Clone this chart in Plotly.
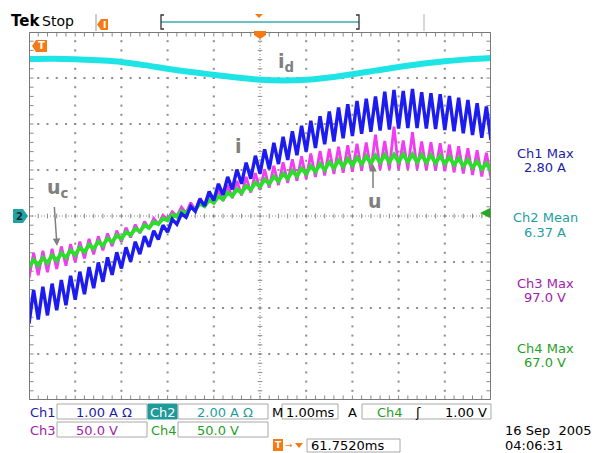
import plotly.graph_objects as go

# ---------------- data (read from the screen) ----------------
# time of each ripple extreme, ms (0 = screen centre, 1.00 ms/div)
t_ms = [-5.0, -4.9, -4.8, -4.7, -4.6, -4.5, -4.4, -4.3, -4.2, -4.1,
        -4.0, -3.9, -3.8, -3.7, -3.6, -3.5, -3.4, -3.3, -3.2, -3.1,
        -3.0, -2.9, -2.8, -2.7, -2.6, -2.5, -2.4, -2.3, -2.2, -2.1,
        -2.0, -1.9, -1.8, -1.7, -1.6, -1.5, -1.4, -1.3, -1.2, -1.1,
        -1.0, -0.9, -0.8, -0.7, -0.6, -0.5, -0.4, -0.3, -0.2, -0.1,
        0.0, 0.1, 0.2, 0.3, 0.4, 0.5, 0.6, 0.7, 0.8, 0.9,
        1.0, 1.1, 1.2, 1.3, 1.4, 1.5, 1.6, 1.7, 1.8, 1.9,
        2.0, 2.1, 2.2, 2.3, 2.4, 2.5, 2.6, 2.7, 2.8, 2.9,
        3.0, 3.1, 3.2, 3.3, 3.4, 3.5, 3.6, 3.7, 3.8, 3.9,
        4.0, 4.1, 4.2, 4.3, 4.4, 4.5, 4.6, 4.7, 4.8, 4.9,
        5.0]

# Ch1: inductor current i (A)
i_A = [-2.34, -1.61, -2.25, -1.54, -2.16, -1.47, -2.05, -1.39, -1.94, -1.30,
       -1.82, -1.21, -1.70, -1.11, -1.57, -1.01, -1.43, -0.90, -1.28, -0.79,
       -1.14, -0.68, -0.99, -0.56, -0.83, -0.44, -0.67, -0.32, -0.51, -0.20,
       -0.35, -0.07, -0.18, 0.05, -0.03, 0.21, 0.10, 0.37, 0.22, 0.53,
       0.34, 0.70, 0.46, 0.85, 0.58, 1.01, 0.70, 1.16, 0.81, 1.31,
       0.92, 1.45, 1.02, 1.59, 1.13, 1.72, 1.22, 1.84, 1.32, 1.96,
       1.40, 2.07, 1.48, 2.17, 1.56, 2.27, 1.62, 2.36, 1.69, 2.43,
       1.74, 2.50, 1.79, 2.55, 1.83, 2.60, 1.86, 2.70, 1.88, 2.74,
       1.90, 2.72, 1.91, 2.76, 1.91, 2.69, 1.90, 2.67, 1.89, 2.65,
       1.87, 2.61, 1.84, 2.57, 1.80, 2.52, 1.76, 2.45, 1.70, 2.38,
       1.65]

# Ch3: capacitor voltage uc (V)
uc_V = [-67.3, -40.0, -64.4, -37.9, -61.2, -35.6, -57.7, -33.1, -53.9, -30.5,
        -50.0, -27.9, -46.0, -24.9, -41.8, -22.0, -37.4, -18.9, -32.8, -15.9,
        -28.2, -12.6, -23.4, -9.3, -18.7, -6.0, -13.8, -2.7, -8.8, 0.8,
        -3.8, 4.6, -0.2, 9.6, 3.2, 14.5, 6.6, 19.4, 9.9, 24.2,
        13.1, 29.0, 16.4, 33.6, 19.5, 38.1, 22.5, 42.5, 25.5, 46.6,
        28.3, 50.8, 30.9, 54.5, 33.6, 58.3, 36.0, 61.7, 38.2, 64.9,
        40.4, 67.8, 42.3, 70.6, 44.1, 73.1, 45.6, 75.2, 47.0, 77.0,
        48.2, 78.6, 49.2, 80.0, 49.9, 88.5, 50.5, 81.6, 50.8, 97.0,
        51.0, 82.0, 50.9, 91.0, 50.7, 81.1, 50.1, 80.2, 49.5, 79.1,
        48.5, 77.6, 47.4, 75.9, 46.1, 73.7, 44.6, 71.5, 42.9, 68.8,
        41.0]

# Ch4: output voltage u (V)
u_V = [-56.2, -47.7, -53.8, -45.4, -51.2, -42.9, -48.4, -40.2, -45.4, -37.3,
       -42.3, -34.3, -39.1, -31.2, -35.6, -27.9, -32.1, -24.5, -28.4, -21.0,
       -24.7, -17.5, -20.8, -13.8, -16.9, -10.1, -12.8, -6.3, -8.8, -2.5,
       -4.7, 1.4, -0.7, 5.4, 3.1, 9.4, 6.9, 13.6, 10.7, 17.6,
       14.4, 21.4, 18.0, 25.3, 21.6, 29.0, 25.1, 32.7, 28.5, 36.3,
       31.7, 39.7, 34.9, 42.9, 37.8, 46.1, 40.7, 48.9, 43.3, 51.6,
       45.8, 54.2, 48.1, 56.6, 50.2, 58.6, 52.1, 60.5, 53.8, 62.2,
       55.1, 63.6, 56.4, 64.8, 57.5, 65.7, 58.1, 66.4, 58.7, 66.8,
       58.9, 67.0, 59.0, 66.9, 58.7, 66.6, 58.3, 66.0, 57.6, 65.1,
       56.8, 64.0, 55.6, 62.7, 54.3, 61.1, 52.6, 59.3, 50.9, 57.3,
       48.8]

# Ch2: dc-link current id (A)
td_ms = [-5.0, -4.5, -4.0, -3.5, -3.0, -2.5, -2.0, -1.5, -1.0, -0.5, 0.0,
         0.5, 1.0, 1.5, 2.0, 2.5, 3.0, 3.5, 4.0, 4.5, 5.0]
id_A = [6.83, 6.84, 6.82, 6.77, 6.70, 6.56, 6.40, 6.26, 6.14, 6.02, 5.92,
        5.89, 5.92, 6.02, 6.16, 6.32, 6.48, 6.62, 6.73, 6.81, 6.87]

# channel scales (units per division)
CH1_PER_DIV = 1.0
CH2_PER_DIV = 2.0
CH3_PER_DIV = 50.0
CH4_PER_DIV = 50.0

measure_labels = ["Ch1 Max", "Ch2 Mean", "Ch3 Max", "Ch4 Max"]
measure_values = ["2.80 A", "6.37 A", "97.0 V", "67.0 V"]

# ---------------- styling / layout ----------------
W, H = 597, 453
L, R, T, B = 29, 491, 32, 400
FONT = "DejaVu Sans"
C1, C2, C3, C4 = "#1c1ca8", "#1f9e9e", "#a01cac", "#1f9f1f"
ORANGE = "#f57a14"
GRID = "#8c8c8c"
LBL = "#7f7f7f"


def px(x):
    return (x - L) / (R - L)


def py(y):
    return (B - y) / (B - T)


def path(pts):
    return "M " + " L ".join(f"{px(x):.5f},{py(y):.5f}" for x, y in pts) + " Z"


fig = go.Figure()

# graticule dots
gx, gy = [], []
minor_x = [round(-5 + 0.2 * j, 2) for j in range(51)]
minor_y = [round(-4 + 0.2 * j, 2) for j in range(41)]
for xv in range(-4, 5):
    if xv == 0:
        continue
    for yv in minor_y:
        gx.append(xv)
        gy.append(yv)
for yv in range(-3, 4):
    if yv == 0:
        continue
    for xv in minor_x:
        gx.append(xv)
        gy.append(yv)
fig.add_trace(go.Scatter(x=gx, y=gy, mode="markers", hoverinfo="skip",
                         marker=dict(size=2, color=GRID, symbol="square", line=dict(width=0))))

# centre-line and border tick marks
tx, ty = [], []
for xv in minor_x:
    tx += [xv, xv, None, xv, xv, None, xv, xv, None]
    ty += [-0.05, 0.05, None, 4.0, 3.9, None, -4.0, -3.9, None]
for yv in minor_y:
    tx += [-0.05, 0.05, None, -5.0, -4.9, None, 5.0, 4.9, None]
    ty += [yv, yv, None, yv, yv, None, yv, yv, None]
fig.add_trace(go.Scatter(x=tx, y=ty, mode="lines", hoverinfo="skip",
                         line=dict(color=GRID, width=1)))

# waveforms
fig.add_trace(go.Scatter(x=td_ms, y=[v / CH2_PER_DIV for v in id_A], mode="lines",
                         line=dict(color="#1ee4e6", width=6, shape="spline"), hoverinfo="skip"))
fig.add_trace(go.Scatter(x=t_ms, y=[v / CH3_PER_DIV for v in uc_V], mode="lines",
                         line=dict(color="#f23cf2", width=2.8), hoverinfo="skip"))
fig.add_trace(go.Scatter(x=t_ms, y=[v / CH4_PER_DIV for v in u_V], mode="lines",
                         line=dict(color="#2ade2a", width=3.8), hoverinfo="skip"))
fig.add_trace(go.Scatter(x=t_ms, y=[v / CH1_PER_DIV for v in i_A], mode="lines",
                         line=dict(color="#1c1cf0", width=3.4), hoverinfo="skip"))

shapes = []
# centre dotted lines
shapes.append(dict(type="line", xref="x", yref="y", x0=-5, x1=5, y0=0, y1=0,
                   line=dict(color=GRID, width=1, dash="1px,2px"), layer="below"))
shapes.append(dict(type="line", xref="x", yref="y", x0=0, x1=0, y0=-4, y1=4,
                   line=dict(color=GRID, width=1, dash="1px,2px"), layer="below"))
# border
shapes.append(dict(type="rect", xref="x", yref="y", x0=-5, x1=5, y0=-4, y1=4,
                   line=dict(color="#7a7a7a", width=2), layer="above"))

# top bar items
shapes.append(dict(type="line", xref="paper", yref="paper", x0=px(96), x1=px(96), y0=py(14), y1=py(31),
                   line=dict(color="#9a9a9a", width=1)))
shapes.append(dict(type="line", xref="paper", yref="paper", x0=px(424), x1=px(424), y0=py(14), y1=py(31),
                   line=dict(color="#b0b0b0", width=1)))
shapes.append(dict(type="path", xref="paper", yref="paper",
                   path=path([(97, 24.5), (101, 19), (108, 19), (108, 30), (101, 30)]),
                   fillcolor=ORANGE, line=dict(width=0)))
shapes.append(dict(type="line", xref="paper", yref="paper", x0=px(161), x1=px(359), y0=py(22), y1=py(22),
                   line=dict(color="#3aaeb0", width=1.5)))
for bx, d in [(161, 1), (359, -1)]:
    shapes.append(dict(type="path", xref="paper", yref="paper",
                       path=f"M {px(bx + 3 * d):.5f},{py(15):.5f} L {px(bx):.5f},{py(15):.5f} "
                            f"L {px(bx):.5f},{py(29):.5f} L {px(bx + 3 * d):.5f},{py(29):.5f}",
                       line=dict(color="#333333", width=1.3)))
shapes.append(dict(type="path", xref="paper", yref="paper",
                   path=path([(255, 14), (263, 14), (259, 18)]), fillcolor=ORANGE, line=dict(width=0)))
# trigger position marker on top border
shapes.append(dict(type="path", xref="paper", yref="paper",
                   path=path([(254, 31), (266, 31), (266, 35), (260, 39), (254, 35)]),
                   fillcolor=ORANGE, line=dict(width=0)))
# T marker
shapes.append(dict(type="path", xref="paper", yref="paper",
                   path=path([(32, 46), (36, 40), (47, 40), (47, 52), (36, 52)]),
                   fillcolor=ORANGE, line=dict(width=0)))
# Ch2 ground marker
shapes.append(dict(type="path", xref="paper", yref="paper",
                   path=path([(13, 209), (23, 209), (28, 216), (23, 223), (13, 223)]),
                   fillcolor="#22a2a2", line=dict(width=0)))

# bottom read-out boxes
def box(x0, x1, y0, y1, fill="white", line="#a8a8a8"):
    return dict(type="rect", xref="paper", yref="paper", x0=px(x0), x1=px(x1), y0=py(y1), y1=py(y0),
                fillcolor=fill, line=dict(color=line, width=1))


shapes += [box(57, 147, 404, 419), box(57, 147, 422, 437),
           box(178, 268, 404, 419), box(178, 268, 422, 437),
           box(148, 177, 404, 419, fill="#1f9a9a", line="#1f9a9a"),
           box(282, 338, 404, 419), box(362, 491, 404, 419),
           box(307, 400, 439, 452)]
shapes.append(dict(type="path", xref="paper", yref="paper",
                   path=path([(273, 439), (283, 439), (283, 451), (273, 451)]),
                   fillcolor=ORANGE, line=dict(width=0)))
shapes.append(dict(type="path", xref="paper", yref="paper",
                   path=path([(295, 443), (303, 443), (299, 448)]),
                   fillcolor=ORANGE, line=dict(width=0)))


def txt(x, y, s, color="#000000", size=13, xanchor="center"):
    return dict(x=px(x), y=py(y), xref="paper", yref="paper", text=s, showarrow=False,
                xanchor=xanchor, yanchor="middle", font=dict(family=FONT, size=size, color=color))


ann = []
ann.append(txt(9, 21, "<b>Tek</b>", size=15, xanchor="left"))
ann.append(txt(40, 21, "Stop", size=14, xanchor="left"))
ann.append(txt(104, 24.5, "<b>I</b>", color="white", size=9))
ann.append(txt(41.5, 46, "<b>T</b>", color="white", size=10))
ann.append(txt(19, 216, "<b>2</b>", color="#0c2a2a", size=10))
ann.append(txt(278, 445, "<b>T</b>", color="white", size=9))
ann.append(txt(289, 445, "→", color=ORANGE, size=9))

# measurements on the right
ys = [(153, 167), (217, 232), (283, 297), (348, 362)]
cols = [C1, C2, C3, C4]
for (ya, yb), lab, val, c in zip(ys, measure_labels, measure_values, cols):
    ann.append(txt(545, ya, lab, color=c, size=13))
    ann.append(txt(545, yb, val, color=c, size=13))

# bottom read-outs
ann += [txt(28, 412, "Ch1", C1, 13, "left"), txt(104, 412, "1.00 A Ω", C1, 13),
        txt(162.5, 412, "Ch2", "white", 13), txt(225, 412, "2.00 A Ω", C2, 13),
        txt(270, 412, "M", "#000000", 13, "left"), txt(310, 412, "1.00ms", "#000000", 13),
        txt(346, 412, "A", "#000000", 13, "left"), txt(375, 412, "Ch4", C4, 13, "left"),
        txt(418, 412, "ʃ", "#000000", 13), txt(489, 412, "1.00 V", "#000000", 13, "right"),
        txt(28, 430, "Ch3", C3, 13, "left"), txt(97, 430, "50.0 V", C3, 13),
        txt(149, 430, "Ch4", C4, 13, "left"), txt(218, 430, "50.0 V", C4, 13),
        txt(309, 445, "61.7520ms", "#000000", 13, "left"),
        txt(503, 430, "16 Sep  2005", "#000000", 13, "left"),
        txt(503, 445, "04:06:31", "#000000", 13, "left")]

# waveform labels
ann += [txt(286, 62, "<b>i<sub>d</sub></b>", LBL, 19),
        txt(238, 146, "<b>i</b>", LBL, 19),
        txt(57, 189, "<b>u<sub>c</sub></b>", LBL, 19),
        txt(375, 201, "<b>u</b>", LBL, 19)]


def arrow(hx, hy, tx_, ty_, color, width):
    return dict(x=px(hx), y=py(hy), xref="paper", yref="paper", text=" ", showarrow=True,
                ax=tx_ - hx, ay=ty_ - hy, arrowhead=2, arrowsize=1, arrowwidth=width,
                arrowcolor=color, standoff=0, startstandoff=0, font=dict(size=6))


ann += [arrow(57, 246, 54, 202, LBL, 1.5),
        arrow(373, 164, 373, 193, LBL, 1.5),
        arrow(480, 213, 491, 213, "#22aa22", 2)]

fig.update_layout(
    width=W, height=H,
    margin=dict(l=L, r=W - R, t=T, b=H - B, pad=0),
    paper_bgcolor="white", plot_bgcolor="white",
    showlegend=False,
    xaxis=dict(range=[-5, 5], showticklabels=False, showgrid=False, zeroline=False,
               showline=False, ticks="", fixedrange=True),
    yaxis=dict(range=[-4, 4], showticklabels=False, showgrid=False, zeroline=False,
               showline=False, ticks="", fixedrange=True),
    shapes=shapes, annotations=ann,
    font=dict(family=FONT),
)

fig.write_html("out.html", config={"displayModeBar": False},
               post_script="document.body.style.margin='0';document.body.style.overflow='hidden';")
